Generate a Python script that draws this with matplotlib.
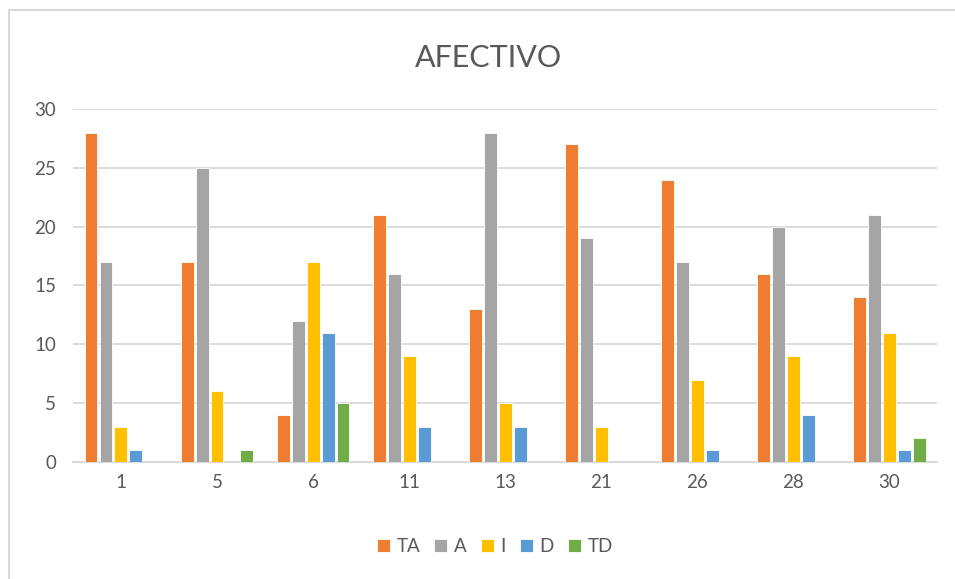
import numpy as np
import matplotlib.pyplot as plt
from matplotlib.lines import Line2D

plt.rcParams['font.family'] = ['Lato', 'DejaVu Sans']

items = ["1", "5", "6", "11", "13", "21", "26", "28", "30"]
series = ["TA", "A", "I", "D", "TD"]
ta = [28, 17, 4, 21, 13, 27, 24, 16, 14]
a = [17, 25, 12, 16, 28, 19, 17, 20, 21]
i_vals = [3, 6, 17, 9, 5, 3, 7, 9, 11]
d = [1, 0, 11, 3, 3, 0, 1, 4, 1]
td = [0, 1, 5, 0, 0, 0, 0, 0, 2]
colors = ["#ed7d31", "#a5a5a5", "#ffc000", "#5b9bd5", "#70ad47"]

fig = plt.figure(figsize=(9.55, 5.79), dpi=100)
ax = fig.add_axes([0.0764, 0.2021, 0.905, 0.6097])

# chart frame (left and top edges only show)
fig.add_artist(Line2D([8.5 / 955, 8.5 / 955], [0, 1 - 9.5 / 579],
                      color="#d9d9d9", lw=1.5, transform=fig.transFigure))
fig.add_artist(Line2D([8.5 / 955, 1], [1 - 9.5 / 579, 1 - 9.5 / 579],
                      color="#d9d9d9", lw=1.5, transform=fig.transFigure))

x = np.arange(len(items))
step = 0.156
w = 0.135
for k, (name, vals) in enumerate(zip(series, [ta, a, i_vals, d, td])):
    ax.bar(x + (k - 2) * step, vals, width=w, color=colors[k],
           edgecolor="white", linewidth=0.6, label=name, zorder=3)

ax.set_xlim(-0.5, len(items) - 0.5)
ax.set_ylim(0, 30)
ax.set_yticks(range(0, 31, 5))
ax.set_xticks(x)
ax.set_xticklabels(items)
ax.grid(axis="y", color="#d9d9d9", lw=1.3, zorder=0)
for s in ["top", "right", "left"]:
    ax.spines[s].set_visible(False)
ax.spines["bottom"].set_color("#d9d9d9")
ax.spines["bottom"].set_linewidth(1.5)
ax.tick_params(length=0, labelsize=13.5, labelcolor="#595959")
ax.tick_params(axis="x", pad=9)
ax.tick_params(axis="y", pad=12)

fig.text(0.511, 0.90, "AFECTIVO", ha="center", va="center",
         fontsize=22, color="#595959")

ax.legend(loc="center", bbox_to_anchor=(0.488, -0.24), ncol=5, frameon=False,
          fontsize=13.5, labelcolor="#595959", handlelength=0.7,
          handleheight=0.7, handletextpad=0.35, columnspacing=0.75)

fig.savefig("out.png", dpi=100, facecolor="white")
